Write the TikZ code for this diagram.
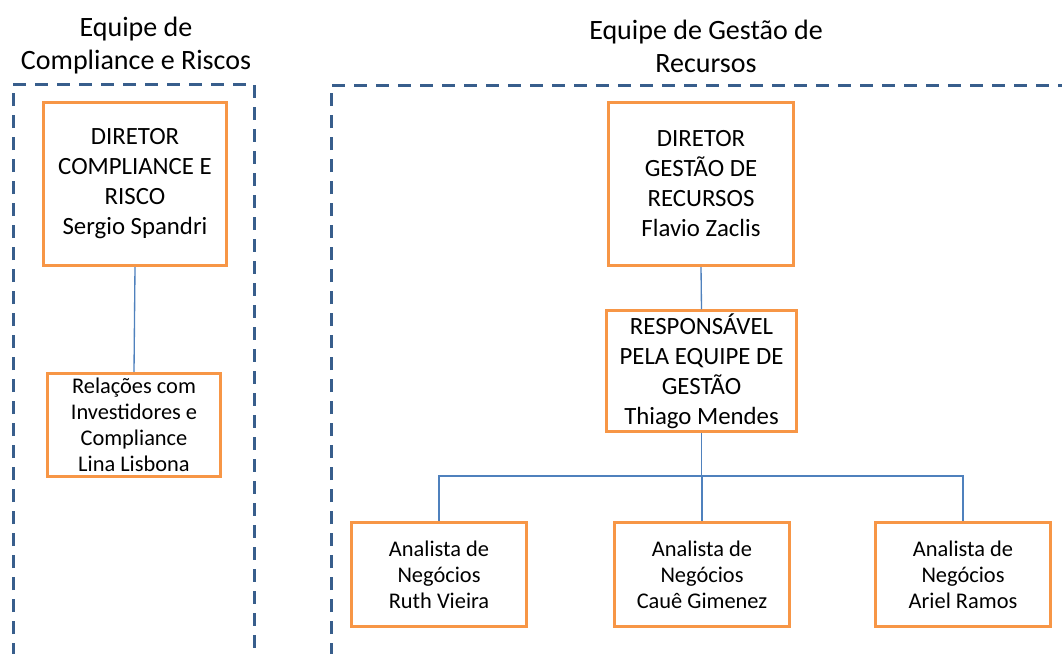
\documentclass[tikz,border=0pt]{standalone}
\usepackage{fontspec}
\setmainfont{Carlito}
\definecolor{boxorange}{RGB}{247,150,70}
\definecolor{linkblue}{RGB}{79,129,189}
\definecolor{teamblue}{RGB}{56,94,140}
\begin{document}
\begin{tikzpicture}[x={(0.75pt,0pt)}, y={(0pt,-0.75pt)},
    person/.style={draw=boxorange, line width=2.25pt, fill=white, align=center, inner sep=2pt, text=black},
    big/.style={font=\fontsize{18.6}{22.5}\selectfont},
    small/.style={font=\fontsize{16.8}{19.5}\selectfont},
    link/.style={draw=linkblue, line width=1pt},
    team/.style={draw=teamblue, line width=2.25pt, dash pattern=on 10pt off 6.5pt},
    title/.style={align=center, text=black, font=\fontsize{21}{24.75}\selectfont}]
    % Fix the frame
    \clip (0,0) rectangle (1062,653);
    \fill[white] (0,0) rectangle (1062,653);

    % Draw the two team frames
    \draw[team] (13,700) -- (13,84) -- (254,84) -- (254,700);
    \draw[team] (331,700) -- (331,85) -- (1100,85);

    % Team titles
    \node[title] (tcomp) at (136,46) {Equipe de\\Compliance e Riscos};
    \node[title] (tgest) at (706,46) {Equipe de Gestão de\\Recursos};

    % Compliance team
    \node[person, big, minimum width=137pt, minimum height=122.5pt] (dircomp) at (135,184)
        {DIRETOR\\COMPLIANCE E\\RISCO\\Sergio Spandri};
    \node[person, small, minimum width=130pt, minimum height=77.5pt] (relinv) at (134,425)
        {Relações com\\Investidores e\\Compliance\\Lina Lisbona};

    % Management team
    \node[person, big, minimum width=139pt, minimum height=122.5pt] (dirgest) at (701,184)
        {DIRETOR\\GESTÃO DE\\RECURSOS\\Flavio Zaclis};
    \node[person, big, minimum width=142.75pt, minimum height=89.5pt] (resp) at (701.5,371)
        {RESPONSÁVEL\\PELA EQUIPE DE\\GESTÃO\\Thiago Mendes};
    \node[person, small, minimum width=131.5pt, minimum height=78.25pt] (ana1) at (439,574.5)
        {Analista de\\Negócios\\Ruth Vieira};
    \node[person, small, minimum width=131.5pt, minimum height=78.25pt] (ana2) at (702,574.5)
        {Analista de\\Negócios\\Cauê Gimenez};
    \node[person, small, minimum width=131.5pt, minimum height=78.25pt] (ana3) at (963,574.5)
        {Analista de\\Negócios\\Ariel Ramos};
    \coordinate (bus) at (701.5,476);

    % Draw connectors
    \path[link] (dircomp.south) -- (relinv.north);
    \path[link] (dirgest.south) -- (resp.north);
    \path[link] (resp.south) -- (bus);
    \path[link] (ana1.north) |- (bus) -| (ana3.north);
    \path[link] (ana2.north) -- (ana2.north |- bus);
\end{tikzpicture}
\end{document}
